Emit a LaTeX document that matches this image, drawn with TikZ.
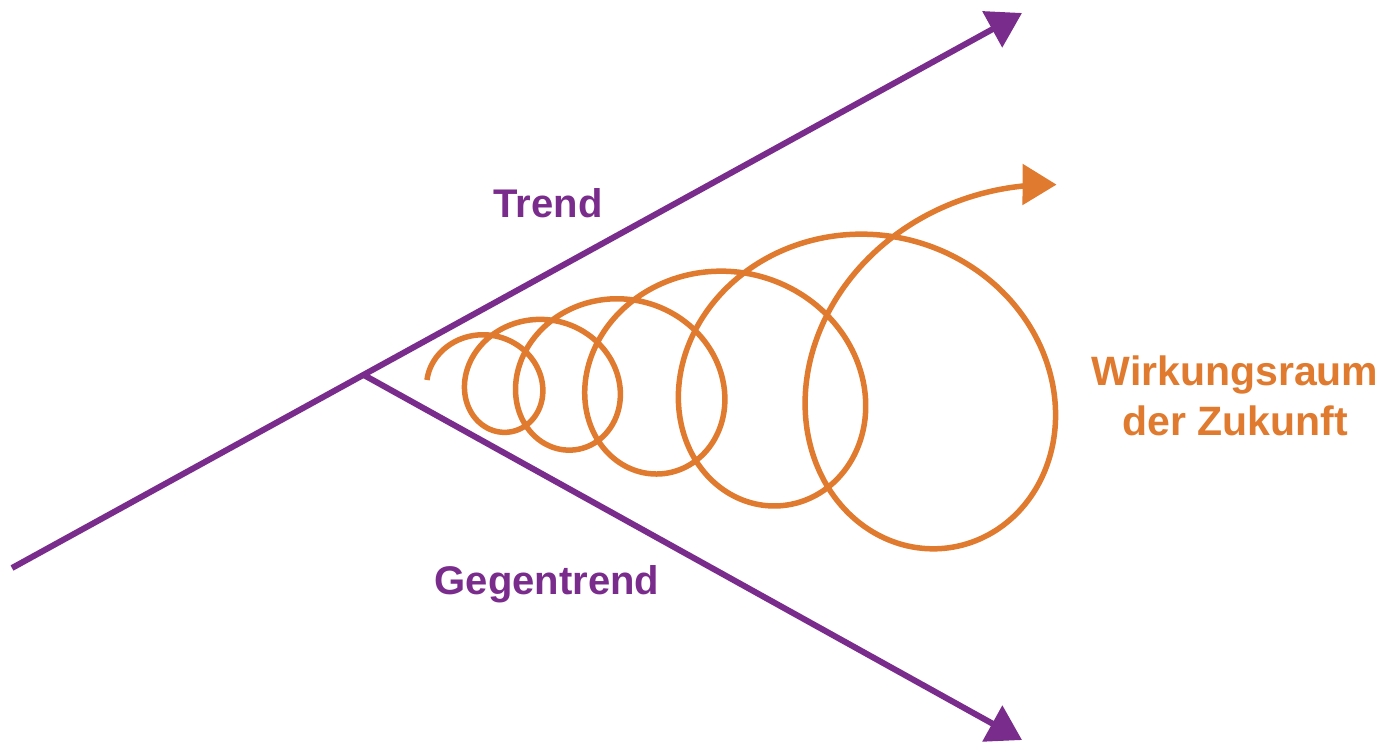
\documentclass[tikz,border=0pt]{standalone}
\usepackage{fontspec}
\setmainfont{Liberation Sans}
\usetikzlibrary{arrows.meta, calc}
\definecolor{trendpurple}{HTML}{7A2C8C}
\definecolor{zukunftorange}{HTML}{E07A2E}
\tikzset{
  % Achsen von Trend und Gegentrend
  trendline/.style={line width=6pt, trendpurple, -{Triangle[length=34pt, width=40pt]}},
  % Spirale im Wirkungsraum
  spiral/.style={line width=5.5pt, zukunftorange, -{Triangle[length=34pt, width=40pt]}},
  % Beschriftungen
  trendlbl/.style={font=\fontsize{40}{48}\selectfont\bfseries, text=trendpurple},
  zukunftlbl/.style={font=\fontsize{41}{50}\selectfont\bfseries, text=zukunftorange, align=center},
}
\begin{document}
\begin{tikzpicture}[x=1pt, y=1pt]
  \useasboundingbox (0,0) rectangle (1387,742);
  \coordinate (trend start) at (12,174);
  \coordinate (trend tip) at (1022,729);
  \coordinate (fork) at ($(trend start)!0.348!(trend tip)$);
  \coordinate (gegen tip) at (1022,2);
  \draw[trendline] (trend start) -- (trend tip);
  \draw[trendline] (fork) -- (gegen tip);
  % Spirale, die sich zum Kegel hin oeffnet
  \draw[spiral] plot[domain=0:5.265, samples=500, variable=\t, smooth]
    ({320+149*pow(1.35,\t)-42*pow(1.34,\t)*cos(360*\t)}, {362+42*pow(1.34,\t)*sin(360*\t)});
  \node[trendlbl, anchor=base] (trend) at (548,524) {Trend};
  \node[trendlbl, anchor=base] (gegentrend) at (547,147) {Gegentrend};
  \node[zukunftlbl] (wirkungsraum) at (1235,346) {Wirkungsraum\\der Zukunft};
\end{tikzpicture}
\end{document}
